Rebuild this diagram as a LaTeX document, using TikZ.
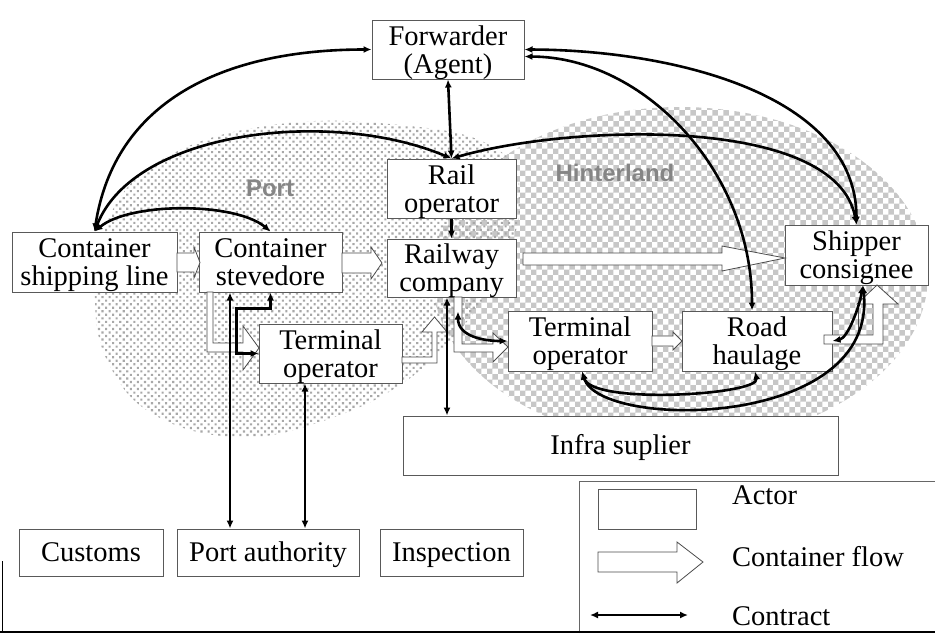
\documentclass[tikz,border=0pt]{standalone}
\usepackage{fontspec}
\setmainfont{Liberation Serif}
\setsansfont{Liberation Sans}
\usetikzlibrary{arrows.meta,patterns,patterns.meta}
\tikzset{
  actor/.style={rectangle, draw=black!65, line width=1pt, fill=white, align=center, inner sep=0pt, text depth=0pt},
  oneline/.style={text height=20pt, text depth=3pt},
  flow/.style={draw=black!70, line width=0.8pt, fill=white},
  contract/.style={line width=2.6pt, {Latex[length=8pt,width=7pt]}-{Latex[length=8pt,width=7pt]}},
  oneway/.style={line width=2.2pt, -{Latex[length=8pt,width=7pt]}},
  zone/.style={font=\fontsize{24}{24}\sffamily\bfseries, text=black!48},
}
\begin{document}
\begin{tikzpicture}[x=1pt, y=-1pt, font=\fontsize{28.5}{28}\selectfont]
        \useasboundingbox (0,0) rectangle (935,633);
        \fill[pattern=checkerboard, pattern color=black!22] (680,275) ellipse [x radius=248, y radius=168];
        \fill[pattern={Dots[distance=5pt, radius=1.5pt, angle=45]}, pattern color=black!34]
          plot[smooth cycle, tension=0.7] coordinates {(95,300) (110,215) (170,155) (280,124) (400,125) (490,145) (520,190) (505,260) (460,330) (400,385) (320,422) (240,437) (160,418) (112,370)};
        \node at (270,188) [zone] (portLbl) {Port};
        \node at (615,173) [zone] (hintLbl) {Hinterland};

        \node at (448,49.5) [actor, minimum width=152pt, minimum height=59pt] (fwd) {Forwarder\\(Agent)};
        \node at (451.5,188.5) [actor, minimum width=129pt, minimum height=59pt] (railop) {Rail\\operator};
        \node at (451.5,268) [actor, minimum width=129pt, minimum height=58pt] (railco) {Railway\\company};
        \node at (94.5,262) [actor, minimum width=165pt, minimum height=60pt] (csl) {Container\\shipping line};
        \node at (270.5,262) [actor, minimum width=143pt, minimum height=60pt] (stev) {Container\\stevedore};
        \node at (330.5,353.5) [actor, minimum width=143pt, minimum height=59pt] (termP) {Terminal\\operator};
        \node at (580,341) [actor, minimum width=144pt, minimum height=60pt] (termH) {Terminal\\operator};
        \node at (757,341) [actor, minimum width=150pt, minimum height=60pt] (road) {Road\\haulage};
        \node at (856.5,255) [actor, minimum width=143pt, minimum height=60pt] (ship) {Shipper\\consignee};
        \node at (620.5,445.5) [actor, oneline, minimum width=435pt, minimum height=59pt] (infra) {Infra suplier};
        \node at (91,552.5) [actor, oneline, minimum width=144pt, minimum height=47pt] (customs) {Customs};
        \node at (268,552.5) [actor, oneline, minimum width=182pt, minimum height=47pt] (portauth) {Port authority};
        \node at (451.5,552.5) [actor, oneline, minimum width=143pt, minimum height=47pt] (inspect) {Inspection};

        \draw[flow] (177,253) -- (194,253) -- (194,247) -- (200,262.5) -- (194,278) -- (194,272) -- (177,272) -- cycle;
        \draw[flow] (342,253) -- (371,253) -- (371,247) -- (382,263) -- (371,279) -- (371,273) -- (342,273) -- cycle;
        \draw[flow] (523,253) -- (722,253) -- (722,246) -- (785,258) -- (722,271) -- (722,265) -- (523,265) -- cycle;
        \draw[flow] (652,336) -- (673,336) -- (673,332) -- (682,341) -- (673,350) -- (673,346) -- (652,346) -- cycle;
        \draw[flow] (207,292) -- (207,352) -- (243,352) -- (243,370) -- (259,348) -- (243,326) -- (243,343) -- (213,343) -- (213,292) -- cycle;
        \draw[flow] (402,363) -- (437,363) -- (437,332) -- (447,332) -- (434.5,317) -- (422,332) -- (432,332) -- (432,357) -- (402,357) -- cycle;
        \draw[flow] (454,297) -- (454,352) -- (493,352) -- (493,362) -- (508,347) -- (493,333) -- (493,344) -- (462,344) -- (462,297) -- cycle;
        \draw[flow] (824,335) -- (824,344) -- (883,344) -- (883,304) -- (898,304) -- (877,285) -- (857,304) -- (873,304) -- (873,335) -- cycle;
        \draw[draw=black!70, line width=0.8pt] (858,304) -- (858,335);

        \coordinate (stevP) at ([xshift=-40.5pt]stev.south);
        \coordinate (termPP) at ([xshift=-25.5pt]termP.south);
        \coordinate (railcoI) at ([xshift=-4.5pt]railco.south);
        \draw[contract] (csl.north) .. controls (114.5,102) and (222,49.5) .. (fwd.west);
        \draw[contract] (csl.north) .. controls (134.5,130) and (331.5,108) .. (railop.north);
        \draw[contract] (csl.north) .. controls (130,202) and (235,202) .. (stev.north);
        \draw[contract] (railop.north) .. controls (571.5,124) and (836.5,115) .. (ship.north);
        \draw[contract] ([yshift=-7pt]fwd.east) .. controls (644,57) and (752,171) .. ([xshift=-5pt]road.north);
        \draw[contract] (fwd.east) .. controls (674,50) and (856.5,95) .. (ship.north);
        \draw[contract] (railop.north) -- (fwd.south);
        \draw[oneway] (railop.south) -- (railco.north);
        \draw[contract] ([xshift=6.5pt,yshift=-14pt]railco.south) .. controls (458,336) and (483,341) .. (termH.west);
        \draw[contract] ([xshift=2pt]termH.south) .. controls (592,405) and (760,395) .. ([xshift=-2pt]road.south);
        \draw[contract] ([xshift=2pt]termH.south) .. controls (600,430) and (878,430) .. ([xshift=6.5pt]ship.south);
        \draw[contract] (road.east) .. controls (848,338) and (860,305) .. ([xshift=6pt]ship.south);
        \draw[contract] (railcoI) -- (railcoI |- infra.north);
        \draw[contract] (stevP) -- (stevP |- portauth.north);
        \draw[contract] (termPP) -- (termPP |- portauth.north);
        \draw[contract] (stev.south) -- ++(0,16) -- ++(-34,0) |- (termP.west);

        \draw[black!60, line width=0.8pt] (579,633) -- (579,481) -- (935,481);
        \node at (647,509) [actor, minimum width=98pt, minimum height=40pt] (legActor) {};
        \draw[flow] (598,552) -- (677,552) -- (677,542) -- (703,562) -- (677,583) -- (677,572) -- (598,572) -- cycle;
        \coordinate (legA) at (590,615);
        \coordinate (legB) at (688,615);
        \draw[contract] (legA) -- (legB);
        \node at (732,504) [anchor=base west, inner sep=0pt] (legActorTxt) {Actor};
        \node at (732,566) [anchor=base west, inner sep=0pt] (legFlowTxt) {Container flow};
        \node at (732,625) [anchor=base west, inner sep=0pt] (legContrTxt) {Contract};
        \draw[line width=0.8pt] (2,561) -- (2,633);
        \draw[line width=2.5pt] (0,632) -- (935,632);
\end{tikzpicture}
\end{document}
